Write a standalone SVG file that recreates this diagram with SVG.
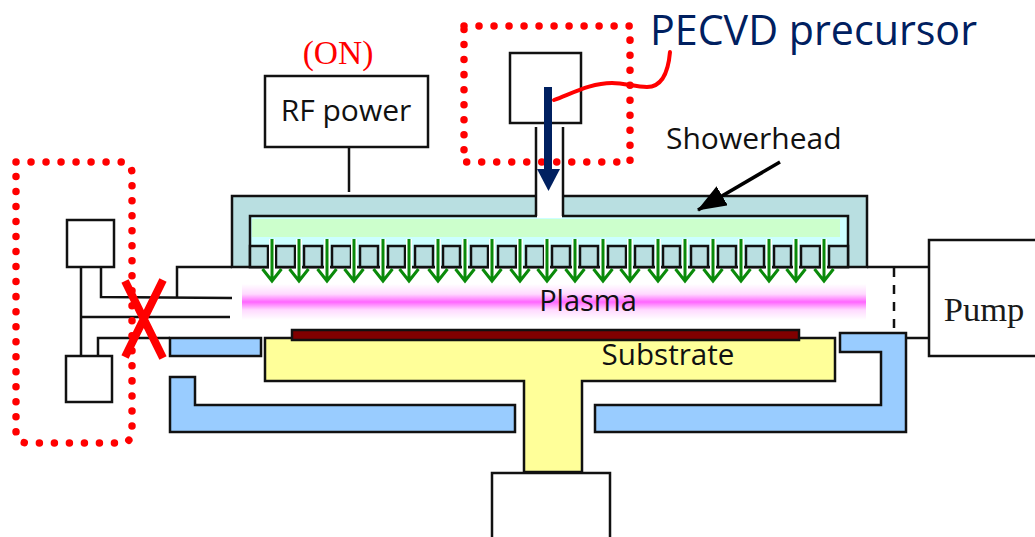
<svg xmlns="http://www.w3.org/2000/svg" width="1035" height="537" viewBox="0 0 1035 537">
<style>
.k{stroke:#111;stroke-width:2.5}
.n{fill:none}
.w{fill:#fff}
.bl{fill:#99ccff}
.t{fill:#b9dfe1}
.dot{fill:none;stroke:#ff0000;stroke-width:7.5;stroke-linecap:round;stroke-dasharray:.01 15}
.s{font-family:"Open Sans","Noto Sans",sans-serif;fill:#111}
.r{font-family:"Liberation Serif",serif}
</style>
<defs>
<linearGradient id="pg" x1="0" y1="0" x2="0" y2="1">
<stop offset="0" stop-color="#fff"/><stop offset=".28" stop-color="#ffd9ff"/><stop offset=".5" stop-color="#ff66ff"/><stop offset=".72" stop-color="#ffd9ff"/><stop offset="1" stop-color="#fff"/>
</linearGradient>
<g id="sa">
<path d="M0 239V279" fill="none" stroke="#fff" stroke-width="6"/>
<path d="M0 239V280M-9.500 269L0 281L9.500 269" fill="none" stroke="#0a8a0a" stroke-width="3"/>
</g>
<marker id="ah" markerUnits="userSpaceOnUse" markerWidth="30" markerHeight="22" refX="28" refY="11" orient="auto"><path d="M0 0L29 11L0 22Z" fill="#000"/></marker>
</defs>
<rect width="1035" height="537" fill="#fff"/>

<g id="plasma"><rect x="242" y="284" width="624" height="36" fill="url(#pg)"/><text class="s" x="588" y="311" font-size="29" text-anchor="middle">Plasma</text></g>

<g id="showerhead">
<path class="k t" d="M232 267V196H867V267Z"/>
<rect x="250" y="216" width="598" height="51" fill="#ccffff" class="k"/>
<rect x="252" y="219" width="588" height="18" fill="#ccffcc"/>
<g class="k t">
<rect x="250" y="246" width="18" height="21"/><rect x="276" y="246" width="19" height="21"/><rect x="304" y="246" width="18" height="21"/><rect x="332" y="246" width="19" height="21"/><rect x="360" y="246" width="18" height="21"/><rect x="388" y="246" width="17" height="21"/><rect x="415" y="246" width="18" height="21"/><rect x="443" y="246" width="17" height="21"/><rect x="471" y="246" width="17" height="21"/><rect x="498" y="246" width="18" height="21"/><rect x="526" y="246" width="18" height="21"/><rect x="552" y="246" width="18" height="21"/><rect x="580" y="246" width="18" height="21"/><rect x="608" y="246" width="18" height="21"/><rect x="635" y="246" width="18" height="21"/><rect x="663" y="246" width="17" height="21"/><rect x="691" y="246" width="17" height="21"/><rect x="718" y="246" width="18" height="21"/><rect x="746" y="246" width="18" height="21"/><rect x="774" y="246" width="17" height="21"/><rect x="801" y="246" width="19" height="21"/><rect x="829" y="246" width="19" height="21"/>
</g>
<use href="#sa" x="272"/><use href="#sa" x="299"/><use href="#sa" x="327"/><use href="#sa" x="354"/><use href="#sa" x="383"/><use href="#sa" x="409"/><use href="#sa" x="438"/><use href="#sa" x="465"/><use href="#sa" x="492"/><use href="#sa" x="520"/><use href="#sa" x="547"/><use href="#sa" x="575"/><use href="#sa" x="603"/><use href="#sa" x="630"/><use href="#sa" x="658"/><use href="#sa" x="685"/><use href="#sa" x="713"/><use href="#sa" x="741"/><use href="#sa" x="769"/><use href="#sa" x="796"/><use href="#sa" x="824"/>
<text class="s" x="666" y="149" font-size="30">Showerhead</text>
</g>

<g id="connectors" fill="none">
<path class="k n" d="M177 298V267H232M867 267H929M906 338H929M349 147V192"/>
<path class="k n" d="M101 267V297L232 298M81 267V356M81 317H230M98 356V338H170"/>
<path class="k n" stroke-dasharray="9 8" d="M894 268V333"/>
<path d="M780 162L698 210" fill="none" stroke="#000" stroke-width="3.500" marker-end="url(#ah)"/>
</g>

<g id="inlet">
<rect x="537" y="190" width="25" height="28" fill="#fff"/>
<path class="k n" d="M536 127V216M563 127V216"/>
</g>

<g id="precursor-box"><rect class="k n" x="510" y="53" width="71" height="70"/></g>

<g id="precursor-dots"><rect class="dot" x="464" y="26" width="166" height="136"/></g>
<g id="precursor-label">
<path d="M554 100C575 92 592 83 612 83C625 83 635 87 647 87C660 87 668 75 670 52" fill="none" stroke="#ff0000" stroke-width="4" stroke-linecap="round"/>
<path d="M548 87V170" stroke="#002060" stroke-width="8" fill="none"/><path d="M537 169H560L548.500 191Z" fill="#002060"/>
<text x="650" y="45" font-size="41.200" font-family="'Open Sans','Noto Sans',sans-serif" fill="#002060">PECVD precursor</text>
</g>

<g id="rf-power"><rect class="k w" x="265" y="76" width="163" height="71"/><text class="s" x="346" y="121" font-size="30" text-anchor="middle">RF power</text>
<text class="r" x="338" y="64" font-size="33.500" fill="#ff0000" text-anchor="middle">(ON)</text></g>

<g id="gas-dots"><path class="dot" d="M16 162H120Q132 162 132 174V431Q132 443 120 443H28Q16 443 16 431Z"/></g>
<g id="gas-box-top"><rect class="k w" x="67" y="220" width="47" height="47"/></g>
<g id="gas-box-bottom"><rect class="k w" x="66" y="356" width="46" height="46"/></g>
<g id="cross"><path d="M125 281L163 358M163 280L125 357" fill="none" stroke="#ff0000" stroke-width="8"/></g>

<g id="chuck"><path class="k" fill="#ffff99" d="M265 338H835V381H582V472H524V381H265Z"/></g>
<g id="wafer"><rect class="k" x="292" y="330" width="507" height="10" fill="#800000"/>
<text class="s" x="668" y="365" font-size="29.600" text-anchor="middle">Substrate</text></g>
<g id="stage-base"><path class="k w" d="M492 538V473H610V538"/></g>

<g id="liner-left-top"><rect class="k bl" x="170" y="338" width="91" height="18"/></g>
<g id="liner-left"><path class="k bl" d="M170 377H195V405H515V432H170Z"/></g>
<g id="liner-right"><path class="k bl" d="M595 405H881V352H840V333H906V432H595Z"/></g>

<g id="pump"><rect class="k w" x="929" y="240" width="108" height="116"/><text class="r" x="984" y="321" font-size="34.500" fill="#1a1a1a" text-anchor="middle">Pump</text></g>
</svg>
